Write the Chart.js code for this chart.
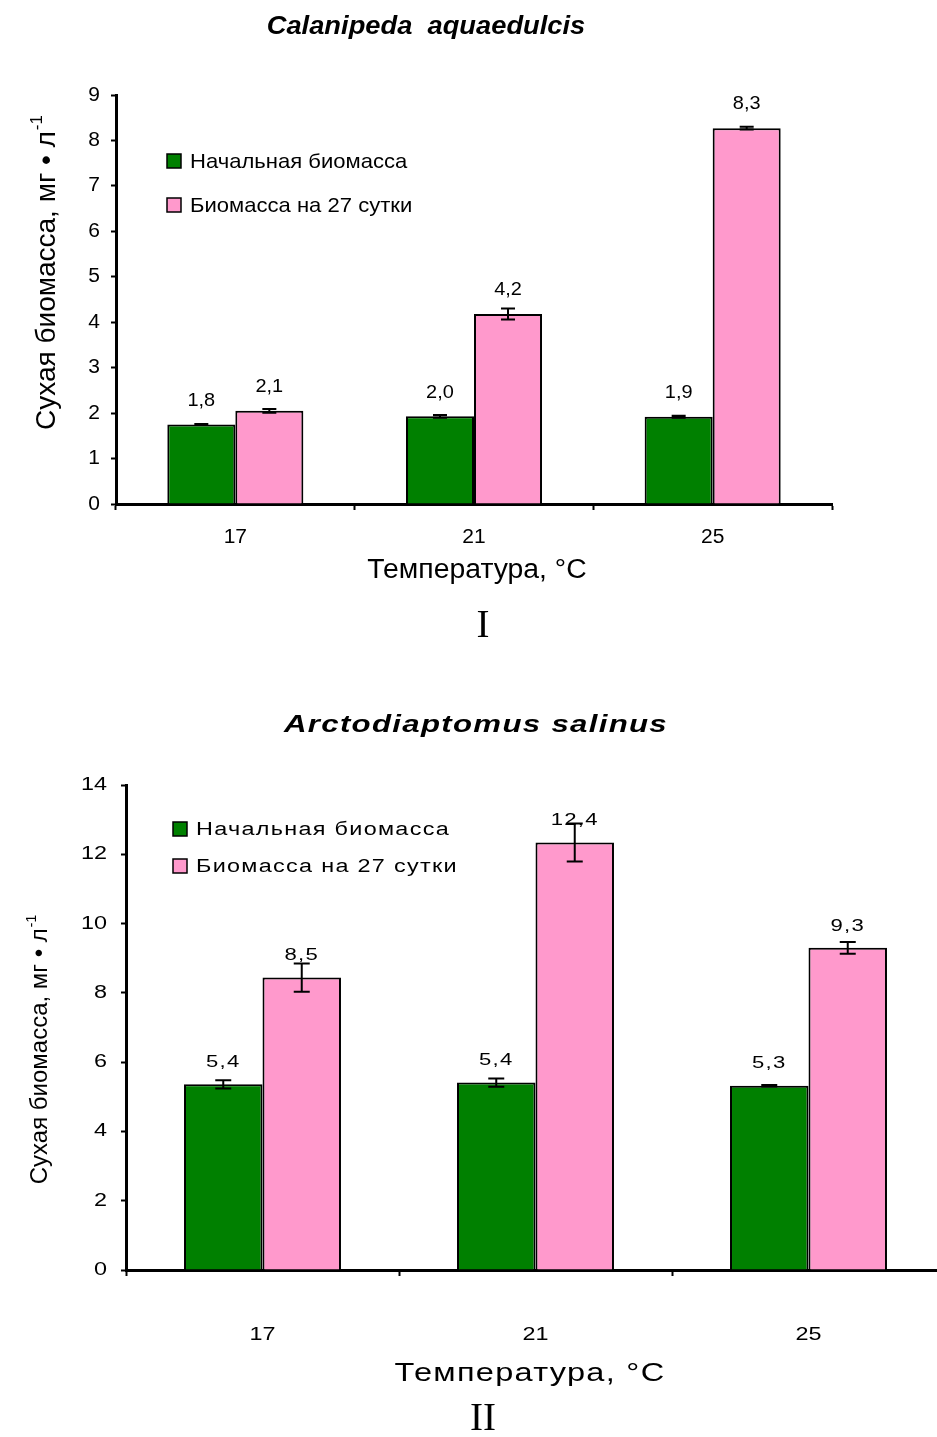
<!DOCTYPE html>
<html>
<head>
<meta charset="utf-8">
<script src="https://cdn.jsdelivr.net/npm/chart.js@4.4.0/dist/chart.umd.min.js"></script>
<style>
  html, body { margin: 0; padding: 0; background: #fff; overflow: hidden; width: 937px; height: 1437px; }
  canvas { position: absolute; left: 0; }
  #grafico1 { top: 0; }
  #grafico2 { top: 660px; }
</style>
</head>
<body>
<canvas id="grafico1" width="937" height="660"></canvas>
<canvas id="grafico2" width="960" height="777"></canvas>
<script>
// ------------------- DATOS -------------------
const temperaturas = ["17", "21", "25"];
const nombresSeries = ["Начальная биомасса", "Биомасса на 27 сутки"];

// Calanipeda aquaedulcis
const calInicial = [1.75, 1.93, 1.92];
const calFinal = [2.05, 4.18, 8.27];
const calInicialErr = [0.01, 0.03, 0.02];
const calFinalErr = [0.04, 0.12, 0.03];
const calInicialTxt = ["1,8", "2,0", "1,9"];
const calFinalTxt = ["2,1", "4,2", "8,3"];

// Arctodiaptomus salinus
const arcInicial = [5.36, 5.41, 5.32];
const arcFinal = [8.44, 12.34, 9.3];
const arcInicialErr = [0.12, 0.12, 0.02];
const arcFinalErr = [0.41, 0.55, 0.17];
const arcInicialTxt = ["5,4", "5,4", "5,3"];
const arcFinalTxt = ["8,5", "12,4", "9,3"];

const VERDE = "#008000";
const ROSA = "#ff99cc";
const SANS = "'Liberation Sans', Arial, sans-serif";
const SERIF = "'Liberation Serif', 'Times New Roman', serif";

// texto estirado en horizontal (las figuras originales están ensanchadas)
function texto(ctx, str, x, y, alinear, escala, espaciado) {
  ctx.save();
  ctx.translate(x, y);
  ctx.scale(escala, 1);
  ctx.letterSpacing = (espaciado || 0) + "px";
  ctx.textAlign = alinear;
  ctx.fillText(str, 0, 0);
  ctx.restore();
}

// ------------------- PLUGIN: errores, etiquetas, leyenda, títulos -------------------
const extras = {
  id: "extras",
  afterDatasetsDraw(chart) {
    const d = chart.options.d;
    const ctx = chart.ctx;
    const y = chart.scales.y;
    ctx.save();
    ctx.fillStyle = "#000";
    ctx.textBaseline = "middle";
    chart.data.datasets.forEach((ds, i) => {
      const meta = chart.getDatasetMeta(i);
      meta.data.forEach((bar, j) => {
        const v = ds.data[j];
        const e = ds.errores[j];
        const yArriba = y.getPixelForValue(v + e);
        const yAbajo = y.getPixelForValue(v - e);
        ctx.strokeStyle = "#000";
        ctx.lineWidth = 2;
        ctx.beginPath();
        ctx.moveTo(bar.x, yArriba);
        ctx.lineTo(bar.x, yAbajo);
        ctx.moveTo(bar.x - d.capa, yArriba);
        ctx.lineTo(bar.x + d.capa, yArriba);
        ctx.moveTo(bar.x - d.capa, yAbajo);
        ctx.lineTo(bar.x + d.capa, yAbajo);
        ctx.stroke();
        // etiqueta del valor
        ctx.font = d.fuenteValor;
        texto(ctx, ds.textos[j], bar.x, y.getPixelForValue(v) - d.sobreBarra, "center", d.escala, d.espaciado);
      });
    });
    ctx.restore();
  },
  afterDraw(chart) {
    const d = chart.options.d;
    const ctx = chart.ctx;
    const area = chart.chartArea;
    ctx.save();
    ctx.fillStyle = "#000";
    ctx.textBaseline = "middle";

    // etiquetas de los ejes
    ctx.font = d.fuenteTicks;
    const ex = chart.scales.x;
    ex.ticks.forEach((t, i) => {
      texto(ctx, ex.getLabelForValue(t.value), ex.getPixelForTick(i), area.bottom + d.bajoEje, "center", d.escala, 0);
    });
    const ey = chart.scales.y;
    ey.ticks.forEach((t) => {
      texto(ctx, String(t.value), area.left - d.izqEje, ey.getPixelForValue(t.value), "right", d.escala, 0);
    });

    // título
    ctx.font = d.fuenteTitulo;
    texto(ctx, d.titulo, d.tituloX, d.tituloY, "center", d.escala, d.espaciado);

    // leyenda
    ctx.font = d.fuenteLeyenda;
    chart.data.datasets.forEach((ds, i) => {
      const cy = d.leyendaY[i];
      ctx.fillStyle = ds.backgroundColor;
      ctx.fillRect(d.leyendaX, cy - 7, 14, 14);
      ctx.strokeStyle = "#000";
      ctx.lineWidth = 1.5;
      ctx.strokeRect(d.leyendaX, cy - 7, 14, 14);
      ctx.fillStyle = "#000";
      texto(ctx, ds.label, d.leyendaX + 23, cy + 1, "left", d.escala, d.espaciado);
    });

    // título eje x
    ctx.font = d.fuenteEjeX;
    texto(ctx, "Температура, °С", d.ejeX[0], d.ejeX[1], "center", d.escala, d.espaciado);

    // título eje y con superíndice
    ctx.translate(d.ejeY[0], d.ejeY[1]);
    ctx.rotate(-Math.PI / 2);
    ctx.font = d.fuenteEjeY;
    const principal = "Сухая биомасса, мг • л";
    const wP = ctx.measureText(principal).width;
    ctx.font = d.fuenteSup;
    const wS = ctx.measureText("-1").width;
    ctx.textAlign = "left";
    ctx.font = d.fuenteEjeY;
    ctx.fillText(principal, -(wP + wS) / 2, 0);
    ctx.font = d.fuenteSup;
    ctx.fillText("-1", -(wP + wS) / 2 + wP + 1, -d.tamSup);
    ctx.setTransform(1, 0, 0, 1, 0, 0);

    // número romano
    ctx.font = "39px " + SERIF;
    ctx.textAlign = "center";
    ctx.fillText(d.romano, d.romanoXY[0], d.romanoXY[1]);
    ctx.restore();
  },
};

function crearGrafico(id, d) {
  return new Chart(document.getElementById(id), {
    type: "bar",
    data: {
      labels: temperaturas,
      datasets: [
        {
          label: nombresSeries[0],
          data: d.inicial,
          errores: d.inicialErr,
          textos: d.inicialTxt,
          backgroundColor: VERDE,
          borderColor: "#000",
          borderWidth: 2,
          barPercentage: 1,
          categoryPercentage: d.categoria,
        },
        {
          label: nombresSeries[1],
          data: d.final,
          errores: d.finalErr,
          textos: d.finalTxt,
          backgroundColor: ROSA,
          borderColor: "#000",
          borderWidth: 2,
          barPercentage: 1,
          categoryPercentage: d.categoria,
        },
      ],
    },
    options: {
      d: d,
      responsive: false,
      animation: false,
      layout: { padding: d.padding },
      plugins: {
        legend: { display: false },
        title: { display: false },
        tooltip: { enabled: false },
      },
      scales: {
        x: {
          offset: true,
          grid: { offset: true, drawOnChartArea: false, drawTicks: true, tickLength: 6, tickWidth: 2, tickColor: "#000" },
          border: { color: "#000", width: 3 },
          ticks: { display: false },
          afterFit: (s) => { s.height = d.altoX; },
        },
        y: {
          min: 0,
          max: d.maxY,
          ticks: { stepSize: d.pasoY, display: false },
          grid: { drawOnChartArea: false, drawTicks: true, tickLength: 5, tickWidth: 2, tickColor: "#000" },
          border: { color: "#000", width: 3 },
          afterFit: (s) => { s.width = d.anchoY; },
        },
      },
    },
    plugins: [extras],
  });
}

// ------------------- PARTE 1: Calanipeda aquaedulcis -------------------
crearGrafico("grafico1", {
  inicial: calInicial, final: calFinal,
  inicialErr: calInicialErr, finalErr: calFinalErr,
  inicialTxt: calInicialTxt, finalTxt: calFinalTxt,
  maxY: 9, pasoY: 1, categoria: 0.57,
  padding: { left: 0, top: 95, right: 105, bottom: 0 },
  anchoY: 116, altoX: 156,
  escala: 1.05, espaciado: 0,
  fuenteTicks: "20px " + SANS, bajoEje: 33, izqEje: 16,
  capa: 7, sobreBarra: 24,
  fuenteValor: "19px " + SANS,
  titulo: "Calanipeda  aquaedulcis", fuenteTitulo: "italic bold 26px " + SANS, tituloX: 426, tituloY: 27,
  fuenteLeyenda: "21px " + SANS, leyendaX: 167, leyendaY: [161, 205],
  fuenteEjeX: "27px " + SANS, ejeX: [477, 571],
  fuenteEjeY: "28px " + SANS, fuenteSup: "17px " + SANS, tamSup: 10, ejeY: [47, 273],
  romano: "I", romanoXY: [483, 627],
});

// ------------------- PARTE 2: Arctodiaptomus salinus -------------------
crearGrafico("grafico2", {
  inicial: arcInicial, final: arcFinal,
  inicialErr: arcInicialErr, finalErr: arcFinalErr,
  inicialTxt: arcInicialTxt, finalTxt: arcFinalTxt,
  maxY: 14, pasoY: 2, categoria: 0.575,
  padding: { left: 0, top: 125, right: 15, bottom: 0 },
  anchoY: 126, altoX: 167,
  escala: 1.3, espaciado: 1,
  fuenteTicks: "18px " + SANS, bajoEje: 65, izqEje: 19,
  capa: 8, sobreBarra: 22,
  fuenteValor: "17px " + SANS,
  titulo: "Arctodiaptomus salinus", fuenteTitulo: "italic bold 24px " + SANS, tituloX: 476, tituloY: 65,
  fuenteLeyenda: "18px " + SANS, leyendaX: 173, leyendaY: [169, 206],
  fuenteEjeX: "25px " + SANS, ejeX: [530, 714],
  fuenteEjeY: "24px " + SANS, fuenteSup: "14px " + SANS, tamSup: 8, ejeY: [40, 390],
  romano: "II", romanoXY: [483, 760],
});
</script>
</body>
</html>
